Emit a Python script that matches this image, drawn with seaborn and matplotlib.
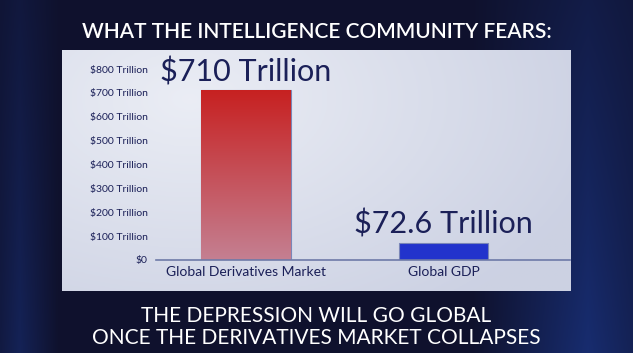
import numpy as np
import pandas as pd
import matplotlib
matplotlib.use("Agg")
import matplotlib.pyplot as plt
import seaborn as sns

# ---- data ----
categories = ["Global Derivatives Market", "Global GDP"]
values = [710, 72.6]
value_labels = ["$710 Trillion", "$72.6 Trillion"]
ytick_values = [0, 100, 200, 300, 400, 500, 600, 700, 800]
ytick_labels = ["$0", "$100 Trillion", "$200 Trillion", "$300 Trillion", "$400 Trillion",
                "$500 Trillion", "$600 Trillion", "$700 Trillion", "$800 Trillion"]
title_text = "WHAT THE INTELLIGENCE COMMUNITY FEARS:"
bottom_line1 = "THE DEPRESSION WILL GO GLOBAL"
bottom_line2 = "ONCE THE DERIVATIVES MARKET COLLAPSES"

df = pd.DataFrame({"category": categories, "value": values})

sns.set_theme(style="white")
FONT = ["Lato", "DejaVu Sans"]
plt.rcParams["font.family"] = FONT

W, H = 633, 353
fig = plt.figure(figsize=(W / 100, H / 100), dpi=100)

# ---- background ----
bg = fig.add_axes([0, 0, 1, 1])
bg.set_axis_off()
yy, xx = np.mgrid[0:1:200j, 0:1:360j]
dark = np.array([0.06, 0.07, 0.18])
blue = np.array([0.10, 0.20, 0.50])
glow = np.clip(1 - np.abs(xx - 0.93) / 0.18, 0, 1) * 0.8 + np.clip(1 - np.abs(xx - 0.03) / 0.06, 0, 1) * 0.5
glow *= (0.4 + 0.6 * yy)
img = dark[None, None, :] * (1 - glow[..., None]) + blue[None, None, :] * glow[..., None]
bg.imshow(img, extent=[0, 1, 0, 1], aspect="auto", origin="upper")
bg.set_xlim(0, 1)
bg.set_ylim(0, 1)

# ---- panel ----
px0, px1, py0, py1 = 62, 571, 50, 291
pan = fig.add_axes([px0 / W, 1 - py1 / H, (px1 - px0) / W, (py1 - py0) / H])
pan.set_axis_off()
yy2, xx2 = np.mgrid[0:1:100j, 0:1:200j]
light = np.array([0.92, 0.93, 0.96])
edge = np.array([0.80, 0.82, 0.89])
t = np.clip(np.sqrt(((xx2 - 0.25) / 1.0) ** 2 + ((yy2 - 0.2) / 1.3) ** 2) * 1.2, 0, 1)
pimg = light[None, None, :] * (1 - t[..., None]) + edge[None, None, :] * t[..., None]
pan.imshow(pimg, extent=[0, 1, 0, 1], aspect="auto", origin="upper")

# ---- chart ----
ax_l, ax_r, ax_zero, ax_top = 156, 570, 260, 69
ax = fig.add_axes([ax_l / W, 1 - ax_zero / H, (ax_r - ax_l) / W, (ax_zero - ax_top) / H])
ax.patch.set_alpha(0)
sns.barplot(data=df, x="category", y="value", ax=ax, width=0.455,
            palette=["#c62222", "#2233cc"], hue="category", legend=False,
            edgecolor="#7a86b8", linewidth=0.8, saturation=1)
ax.set_xlim(-0.455, 1.64)
ax.set_ylim(0, 800)

# gradient on first bar
bars = ax.patches
b0 = bars[0]
grad = np.linspace(0, 1, 100)[:, None]
top_c = np.array([0.78, 0.13, 0.13])
bot_c = np.array([0.77, 0.50, 0.57])
gimg = top_c[None, None, :] * (1 - grad[..., None]) + bot_c[None, None, :] * grad[..., None]
gimg = np.repeat(gimg, 4, axis=1)
x0 = b0.get_x(); w0 = b0.get_width(); h0 = b0.get_height()
im = ax.imshow(gimg, extent=[x0, x0 + w0, 0, h0], aspect="auto", origin="upper", zorder=b0.get_zorder() + 0.1)
im.set_clip_path(b0)
ax.set_xlim(-0.455, 1.64)
ax.set_ylim(0, 800)

navy = "#1b2058"
for i, (v, lab) in enumerate(zip(values, value_labels)):
    ax.text(i, v + 18, lab, ha="center", va="bottom", fontsize=22, color=navy, clip_on=False)

ax.set_yticks(ytick_values)
ax.set_yticklabels(ytick_labels, fontsize=7.5, color=navy)
ax.tick_params(axis="y", length=0, pad=6)
ax.tick_params(axis="x", length=0, pad=4, labelsize=10, labelcolor=navy)
ax.set_xlabel("")
ax.set_ylabel("")
for s in ["top", "right", "left"]:
    ax.spines[s].set_visible(False)
ax.spines["bottom"].set_color("#6e7aa8")
ax.spines["bottom"].set_linewidth(1.2)

# ---- titles ----
fig.text(0.5, 1 - 37.5 / H, title_text, ha="center", va="baseline", fontsize=15, color="white", weight="semibold")
fig.text(0.5, 1 - 322 / H, bottom_line1, ha="center", va="baseline", fontsize=15, color="white")
fig.text(0.5, 1 - 344 / H, bottom_line2, ha="center", va="baseline", fontsize=15, color="white")

fig.savefig("out.png", dpi=100)
